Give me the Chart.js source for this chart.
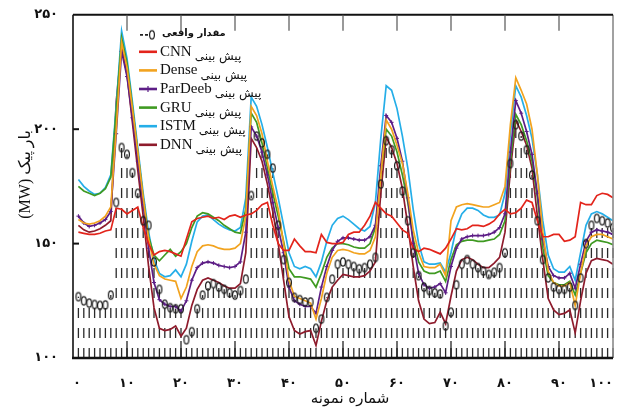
<!DOCTYPE html>
<html>
<head>
<meta charset="utf-8">
<script src="https://cdn.jsdelivr.net/npm/chart.js@4"></script>
<style>
  html, body { margin: 0; padding: 0; background: #fff; }
  #wrap { width: 623px; height: 414px; }
</style>
</head>
<body>
<div id="wrap"><canvas id="loadChart"></canvas></div>
<script>
// sample numbers on the x axis
const samples = Array.from({ length: 100 }, (_, i) => i + 1);

// actual peak load (MW)
const actual = [
  126.8, 125, 124, 123.4, 123, 123.2, 127.5, 168, 192, 189,
  181, 172, 160, 158, 142, 130, 123.5, 122, 121.5, 121.5,
  108, 111.5, 121.5, 127.5, 131.5, 132.5, 131, 130, 128.5, 127.5,
  129.5, 134.5, 171, 197, 194, 189, 183, 158, 143, 133,
  126.5, 125.5, 124.5, 124.5, 113, 117, 126.5, 134.5, 141, 142,
  141, 140, 139, 139.5, 141, 144, 176, 195, 191, 184,
  173, 160, 146, 136, 131, 129.5, 128.5, 128, 114, 120,
  132, 141, 143, 141, 139.5, 138, 136.5, 137.5, 139.5, 146,
  185, 202, 197, 191, 180, 160, 143, 135, 131, 130,
  130, 131, 123, 135, 150, 158, 161, 160, 159, 157
];
const cnn = [
  155, 154.5, 154, 154, 154.5, 155.5, 156, 165.5, 165, 163,
  164.5, 166, 157, 150, 145, 146.5, 147, 146.5, 145.5, 144.5,
  152, 159.5, 161, 161.5, 162, 161, 161.5, 160.5, 162, 162.5,
  161.5, 162.5, 163, 164.5, 167, 168, 158, 150, 147, 147,
  152, 149, 146.5, 146.5, 146, 154, 150.5, 150, 150, 150.5,
  154, 155, 155, 158, 162, 168, 165.5, 163, 162, 159,
  156, 154.5, 148, 146.5, 148, 147.5, 146.5, 145.5, 148, 152,
  156.5, 156, 156.5, 158, 158, 157.5, 158.5, 160, 163, 165,
  163, 163.5, 165.5, 169, 168, 160, 153, 153, 154, 154,
  151, 151.5, 153, 168, 167, 167, 171, 172, 171.5, 170
];
const dense = [
  160.5, 159, 158.5, 159, 160, 162, 166, 200, 238, 227,
  209, 190, 170, 152, 141, 136, 134.5, 134, 133.5, 126,
  131, 140, 146.5, 149, 149.5, 149, 148, 147.5, 147.5, 148,
  150, 162, 210, 206, 198, 186, 175, 165, 150, 134,
  127, 126, 125, 124, 117, 126, 137, 144, 147, 147.5,
  147, 146, 145.5, 145.5, 147, 153, 180, 204, 200, 193,
  185, 172, 156, 146, 140, 139.5, 139.5, 141, 136, 160,
  166, 167, 167.5, 167, 166.5, 166, 166, 167, 168, 175,
  202, 222.5, 217, 211, 200, 180, 155, 138, 133, 131.5,
  131.5, 133, 123, 137, 149, 153, 154, 154, 153, 152
];
const parDeeb = [
  162, 159, 157.5, 158, 159, 160.5, 164, 198, 234, 223,
  205, 186, 167, 148, 133, 125.5, 123.5, 122.5, 122.5, 120.5,
  125, 134, 139.5, 141.5, 142, 141.5, 140.5, 140, 139.5, 140,
  142, 155, 201, 197, 190, 180, 168, 157, 146, 131,
  125, 123.5, 122.5, 122.5, 119.5, 131, 140, 147, 151, 152.5,
  152.5, 152, 151.5, 151.5, 153, 158, 184, 206, 203, 196,
  186, 170, 150, 137, 132, 130.5, 131, 132.5, 128.5, 140,
  148, 152, 153, 153.5, 153.5, 153.5, 154, 155, 157, 163,
  190, 212.5, 207, 199, 189, 172, 152, 140, 136, 135,
  135, 137, 130.5, 141, 151, 155, 156, 155.5, 155, 154
];
const gru = [
  175, 173, 172, 171, 172, 174, 179, 208, 240, 229,
  210, 190, 170, 153, 145, 142.5, 145, 147.5, 144.5, 146.5,
  150, 157, 162, 163.5, 163, 161.5, 160, 158, 156.5, 155,
  154.5, 165, 207, 203, 194, 183, 172, 162, 151, 139,
  135.5, 135.5, 135, 134.5, 131, 137, 144, 148, 150, 150,
  149.5, 148.5, 148, 148, 150, 157, 180, 200, 197, 190,
  180, 168, 152, 142, 138, 137, 137, 138, 133.5, 143,
  149.5, 151, 151.5, 151.5, 151, 151, 151.5, 152, 154, 160,
  186, 206.5, 202, 195, 186, 170, 148, 136, 133, 132,
  132, 133.5, 127.5, 137, 146, 150, 151.5, 151, 150.5, 149.5
];
const istm = [
  178, 175, 173, 171.5, 172, 174.5, 180, 210, 243, 231,
  212, 192, 172, 155, 143, 137, 135.5, 136, 138.5, 135.5,
  141, 151, 159.5, 162, 162.5, 160.5, 158.5, 157, 156, 155.5,
  157, 170, 214, 210, 202, 192, 181, 170, 158, 146,
  140, 139, 140, 139, 135.5, 142, 151, 158, 161, 162,
  160.5, 158.5, 156.5, 155.5, 157.5, 168, 196, 219, 217, 209,
  197, 183, 165, 150, 142, 141, 141, 141.5, 137.5, 146,
  157, 163, 165.5, 165.5, 164.5, 162.5, 161.5, 161.5, 162.5, 172,
  198, 219, 214, 206, 196, 180, 160, 145, 139, 137.5,
  137.5, 140, 134, 146, 158, 163, 164, 163, 161.5, 160
];
const dnn = [
  158, 156, 155, 155.5, 156.5, 158, 160, 212, 236, 224,
  203, 182, 162, 140, 122, 113, 112, 112.5, 114, 109.5,
  113, 123, 130, 134, 135, 134, 133, 131.5, 130.5, 130.5,
  132.5, 146, 196, 192, 186, 176, 164, 150, 134, 118,
  112, 110.5, 111.5, 112, 105.5, 116, 125, 131, 134, 136.5,
  136, 135.5, 135.5, 136, 138, 142, 172, 196.5, 192, 185,
  174, 158, 140, 125, 117, 115, 115.5, 120, 115, 127,
  138, 143, 144, 143, 141, 139.5, 139.5, 141.5, 144, 155,
  182, 204, 199, 193, 183, 162, 143, 126, 121, 119,
  119.5, 121, 111, 125, 137, 142.5, 143.5, 143, 142.5, 141
];

const xTicks = [0, 10, 20, 30, 40, 50, 60, 70, 80, 90, 100];
const yTicks = [100, 150, 200, 250];

const actualLabel = 'مقدار واقعی';
const predLabel   = 'پیش بینی';
const names  = ['CNN', 'Dense', 'ParDeeb', 'GRU', 'ISTM', 'DNN'];
const series = [cnn, dense, parDeeb, gru, istm, dnn];
const colors = ['#e3241b', '#f2a31f', '#5d1e86', '#3f9a22', '#25aee8', '#8e1b2c'];

const faDigits = '۰۱۲۳۴۵۶۷۸۹';
const toFa = v => String(v).replace(/\d/g, d => faDigits[d]);

// open "0" marker of the actual series
const ring = document.createElement('canvas');
ring.width = 8; ring.height = 12;
(() => {
  const c = ring.getContext('2d');
  c.strokeStyle = '#1b1b1b'; c.lineWidth = 1.2;
  c.beginPath(); c.ellipse(4, 6, 2.4, 4.1, 0, 0, Math.PI * 2); c.stroke();
})();

// dashed stems from the floor up to each actual value
const stems = {
  id: 'stems',
  beforeDatasetsDraw(chart) {
    const { ctx, scales: { y } } = chart;
    const base = y.getPixelForValue(y.min);
    ctx.save();
    ctx.strokeStyle = '#2a2a2a';
    ctx.lineWidth = 1.3;
    ctx.setLineDash([10, 10]);
    chart.getDatasetMeta(0).data.forEach(p => {
      ctx.beginPath(); ctx.moveTo(p.x, base); ctx.lineTo(p.x, p.y); ctx.stroke();
    });
    ctx.restore();
  }
};

// frame, inner ticks, titles and the boxed legend
const frame = {
  id: 'frame',
  afterDraw(chart) {
    const { ctx, chartArea: a, scales: { x, y } } = chart;
    ctx.save();
    ctx.lineCap = 'butt';

    ctx.strokeStyle = '#8a8a8a'; ctx.lineWidth = 1.6;
    ctx.beginPath(); ctx.moveTo(a.right, a.top); ctx.lineTo(a.right, a.bottom); ctx.stroke();

    ctx.strokeStyle = '#111';
    ctx.lineWidth = 2;
    ctx.beginPath(); ctx.moveTo(a.left, a.top); ctx.lineTo(a.right, a.top); ctx.stroke();
    ctx.lineWidth = 1.6;
    ctx.beginPath(); ctx.moveTo(a.left, a.top); ctx.lineTo(a.left, a.bottom); ctx.stroke();
    ctx.lineWidth = 2.6;
    ctx.beginPath(); ctx.moveTo(a.left - 1, a.bottom); ctx.lineTo(a.right, a.bottom); ctx.stroke();

    ctx.lineWidth = 1.2;
    xTicks.slice(1, -1).forEach(v => {
      const px = x.getPixelForValue(v);
      ctx.strokeStyle = '#555';
      ctx.beginPath(); ctx.moveTo(px, a.top); ctx.lineTo(px, a.top + 16); ctx.stroke();
      ctx.strokeStyle = '#111';
      ctx.beginPath(); ctx.moveTo(px, a.bottom); ctx.lineTo(px, a.bottom - 17); ctx.stroke();
    });
    ctx.lineWidth = 2;
    yTicks.slice(1, -1).forEach(v => {
      const py = y.getPixelForValue(v);
      ctx.beginPath(); ctx.moveTo(a.left, py); ctx.lineTo(a.left + 6, py); ctx.stroke();
    });

    // axis titles
    ctx.fillStyle = '#111';
    ctx.direction = 'rtl';
    ctx.textAlign = 'center';
    ctx.textBaseline = 'middle';
    ctx.font = "15px 'DejaVu Sans'";
    ctx.fillText('شماره نمونه', (a.left + a.right) / 2 + 7, 399);
    ctx.save();
    ctx.translate(26, (a.top + a.bottom) / 2 - 12);
    ctx.rotate(-Math.PI / 2);
    ctx.font = "16px 'Liberation Serif', 'DejaVu Sans'";
    ctx.fillText('بار پیک (MW)', 0, 0);
    ctx.restore();

    // legend
    const x0 = a.left + 66, y0 = a.top + 20, gap = 18.6;
    ctx.textAlign = 'left';
    ctx.strokeStyle = '#222'; ctx.lineWidth = 1.8;
    ctx.setLineDash([3, 2]);
    ctx.beginPath(); ctx.moveTo(x0 + 1, y0); ctx.lineTo(x0 + 9, y0); ctx.stroke();
    ctx.setLineDash([]);
    ctx.drawImage(ring, x0 + 9, y0 - 6);
    ctx.font = "bold 10px 'DejaVu Sans'";
    ctx.fillText(actualLabel, x0 + 23, y0 - 1);

    names.forEach((n, i) => {
      const ly = y0 + 17 + gap * i;
      ctx.strokeStyle = colors[i]; ctx.lineWidth = 2.6;
      ctx.beginPath(); ctx.moveTo(x0, ly); ctx.lineTo(x0 + 18, ly); ctx.stroke();
      if (n === 'ParDeeb') {
        ctx.lineWidth = 1.2;
        ctx.beginPath(); ctx.moveTo(x0 + 9, ly - 3); ctx.lineTo(x0 + 9, ly + 3); ctx.stroke();
      }
      ctx.direction = 'ltr';
      ctx.font = "15px 'Liberation Serif'";
      ctx.fillStyle = '#111';
      ctx.fillText(n, x0 + 21, ly);
      const w = ctx.measureText(n).width;
      ctx.direction = 'rtl';
      ctx.textAlign = 'left';
      ctx.font = "12px 'DejaVu Sans'";
      ctx.fillText(predLabel, x0 + 24 + w, ly + 5);
    });
    ctx.restore();
  }
};

const tickFont = { family: "'DejaVu Sans'", size: 13, weight: 'bold' };

new Chart(document.getElementById('loadChart'), {
  type: 'line',
  data: {
    datasets: [
      {
        label: actualLabel,
        data: samples.map((s, i) => ({ x: s, y: actual[i] })),
        showLine: false,
        pointStyle: ring,
        order: 0
      },
      ...names.map((n, i) => ({
        label: n,
        data: samples.map((s, k) => ({ x: s, y: series[i][k] })),
        borderColor: colors[i],
        backgroundColor: colors[i],
        borderWidth: 1.7,
        pointStyle: n === 'ParDeeb' ? 'cross' : 'circle',
        pointRadius: n === 'ParDeeb' ? 2 : 0,
        pointBorderWidth: 1,
        tension: 0,
        order: 1 + i
      }))
    ]
  },
  options: {
    responsive: true,
    maintainAspectRatio: false,
    animation: false,
    events: [],
    layout: { padding: { top: 12, right: 10, left: 0, bottom: 0 } },
    plugins: { legend: { display: false }, tooltip: { enabled: false } },
    scales: {
      x: {
        type: 'linear',
        min: 0,
        max: 100,
        afterBuildTicks: s => { s.ticks = xTicks.map(v => ({ value: v })); },
        afterFit: s => { s.height = 56; },
        grid: { display: false },
        border: { display: false },
        ticks: {
          align: 'inner',
          padding: 10,
          color: '#111',
          font: tickFont,
          maxRotation: 0,
          autoSkip: false,
          callback: v => toFa(v)
        }
      },
      y: {
        min: 100,
        max: 250,
        afterBuildTicks: s => { s.ticks = yTicks.map(v => ({ value: v })); },
        afterFit: s => { s.width = 73; },
        grid: { display: false },
        border: { display: false },
        ticks: {
          padding: 7,
          color: '#111',
          font: tickFont,
          callback: v => toFa(v)
        }
      }
    }
  },
  plugins: [stems, frame]
});
</script>
</body>
</html>
